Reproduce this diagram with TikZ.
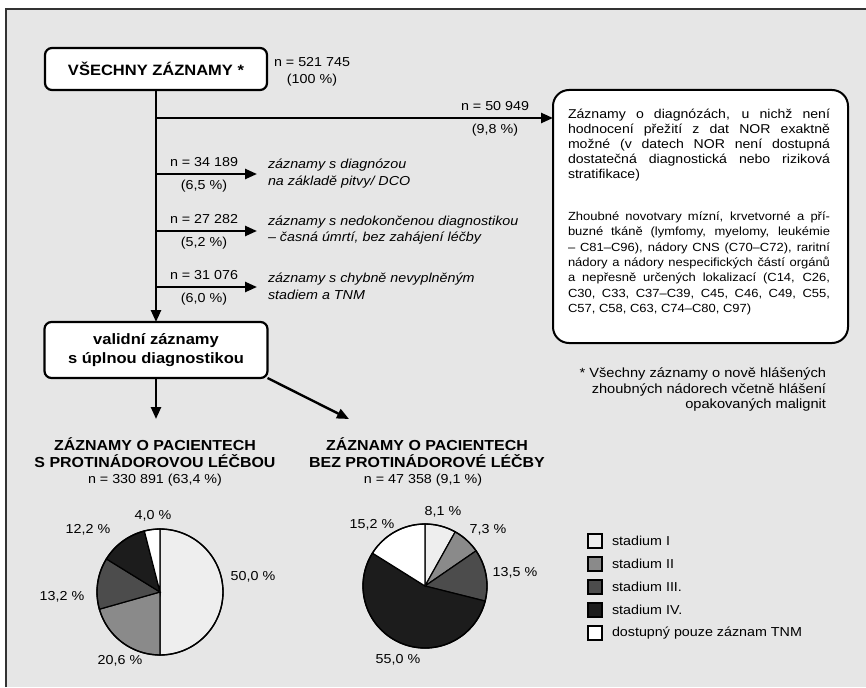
\documentclass[tikz,border=0pt]{standalone}
\usepackage{fontspec}
\setmainfont[FakeStretch=1.1]{Liberation Sans}
\usetikzlibrary{arrows.meta}
\definecolor{bg}{HTML}{E6E6E6}
\definecolor{stI}{HTML}{EEEEEE}
\definecolor{stII}{HTML}{8A8A8A}
\definecolor{stIII}{HTML}{4C4C4C}
\definecolor{stIV}{HTML}{1C1C1C}
\definecolor{stTNM}{HTML}{FFFFFF}
\begin{document}
\begin{tikzpicture}[x=1pt,y=-1pt,
  every node/.style={inner sep=0pt, outer sep=0pt},
  flowbox/.style={draw=black, line width=2.2pt, rounded corners=7pt, fill=white, align=center, font=\bfseries\fontsize{15}{19}\selectfont},
  conn/.style={line width=2.4pt, -{Triangle[length=12pt,width=10pt]}},
  lbl/.style={font=\fontsize{13}{17}\selectfont, align=center},
  pct/.style={font=\fontsize{13}{23}\selectfont, align=center},
  itl/.style={font=\itshape\fontsize{13}{16.5}\selectfont, align=left, anchor=west},
  head/.style={font=\bfseries\fontsize{14.5}{17}\selectfont, align=center},
  pieline/.style={draw=black, line width=1.2pt},
  legbox/.style={draw=black, line width=1.5pt, minimum width=14pt, minimum height=14pt},
  legtxt/.style={font=\fontsize{13}{15}\selectfont, anchor=west}
]
\useasboundingbox (0,0) rectangle (866,687);
\fill[white] (0,0) rectangle (866,687);
\fill[bg] (6,9) rectangle (866,687);
\draw[line width=1.8pt, black!80] (6,687) -- (6,9) -- (866,9);

% top box
\node[flowbox, minimum width=222pt, minimum height=42pt] (all) at (156,69) {VŠECHNY ZÁZNAMY *};
\node[lbl] (nall) at (312,71.5) {n = 521 745\\(100 \%)};

% right box
\node[draw=black, line width=2pt, rounded corners=16pt, fill=white, minimum width=295pt, minimum height=253pt] (rbox) at (700.5,216.5) {};
\node[anchor=north west, text width=262pt, align=justify, font=\fontsize{12.8}{15}\selectfont] (rt1) at (568,109)
 {Záznamy o diagnózách, u nichž není\linebreak
  hodnocení přežití z dat NOR exaktně\linebreak
  možné (v datech NOR není dostupná\linebreak
  dostatečná diagnostická nebo riziková\linebreak
  stratifikace)};
\node[anchor=north west, text width=262pt, align=justify, font=\fontsize{11.8}{15.3}\selectfont] (rt2) at (568,212)
 {Zhoubné novotvary mízní, krvetvorné a pří-\linebreak
  buzné tkáně (lymfomy, myelomy, leukémie\linebreak
  – C81–C96), nádory CNS (C70–C72), raritní\linebreak
  nádory a nádory nespecifických částí orgánů\linebreak
  a nepřesně určených lokalizací (C14, C26,\linebreak
  C30, C33, C37–C39, C45, C46, C49, C55,\linebreak
  C57, C58, C63, C74–C80, C97)};

% valid box
\node[flowbox, minimum width=223pt, minimum height=56pt] (valid) at (156,350) {validní záznamy\\s úplnou diagnostikou};

% trunk and branches
\draw[conn] (all.south) -- (valid.north);
\coordinate (j0) at (156,118);
\draw[conn] (j0) -- (j0 -| rbox.west);
\node[pct] (n0) at (495,118.5) {n = 50 949\\(9,8 \%)};

\coordinate (j1) at (156,174);
\coordinate (e1) at (257,174);
\draw[conn] (j1) -- (e1);
\node[pct] (n1) at (204,174.5) {n = 34 189\\(6,5 \%)};
\node[itl] (t1) at (268,173.5) {záznamy s diagnózou\\na základě pitvy/ DCO};

\coordinate (j2) at (156,231);
\coordinate (e2) at (257,231);
\draw[conn] (j2) -- (e2);
\node[pct] (n2) at (204,231.5) {n = 27 282\\(5,2 \%)};
\node[itl] (t2) at (268,230) {záznamy s nedokončenou diagnostikou\\– časná úmrtí, bez zahájení léčby};

\coordinate (j3) at (156,287);
\coordinate (e3) at (257,287);
\draw[conn] (j3) -- (e3);
\node[pct] (n3) at (204,287.5) {n = 31 076\\(6,0 \%)};
\node[itl] (t3) at (268,286.5) {záznamy s chybně nevyplněným\\stadiem a TNM};

% footnote
\node[align=right, anchor=north east, font=\fontsize{13.3}{15.5}\selectfont] (fn) at (826,368)
 {* Všechny záznamy o nově hlášených\\zhoubných nádorech včetně hlášení\\opakovaných malignit};

% lower arrows
\coordinate (a1) at (156,419);
\coordinate (a2) at (349,419);
\draw[conn] (valid.south) -- (a1);
\draw[conn] (valid.south east) -- (a2);

% headings
\node[head] (h1) at (155,453) {ZÁZNAMY O PACIENTECH\\S PROTINÁDOROVOU LÉČBOU};
\node[lbl] (c1) at (155,480) {n = 330 891 (63,4 \%)};
\node[head] (h2) at (427,453) {ZÁZNAMY O PACIENTECH\\BEZ PROTINÁDOROVÉ LÉČBY};
\node[lbl] (c2) at (423,480) {n = 47 358 (9,1 \%)};

% pie 1
\begin{scope}[shift={(160,592)}, yscale=-1]
 \filldraw[pieline, fill=stI] (0,0) -- (90:63) arc[start angle=90, end angle=-90, radius=63] -- cycle;
 \filldraw[pieline, fill=stII] (0,0) -- (-90:63) arc[start angle=-90, end angle=-164.16, radius=63] -- cycle;
 \filldraw[pieline, fill=stIII] (0,0) -- (-164.16:63) arc[start angle=-164.16, end angle=-211.68, radius=63] -- cycle;
 \filldraw[pieline, fill=stIV] (0,0) -- (-211.68:63) arc[start angle=-211.68, end angle=-255.6, radius=63] -- cycle;
 \filldraw[pieline, fill=stTNM] (0,0) -- (-255.6:63) arc[start angle=-255.6, end angle=-270, radius=63] -- cycle;
 \draw[line width=1.4pt] (0,0) circle[radius=63];
\end{scope}
\node[lbl] (p1a) at (253,577) {50,0 \%};
\node[lbl] (p1b) at (120,661) {20,6 \%};
\node[lbl] (p1c) at (62,597) {13,2 \%};
\node[lbl] (p1d) at (88,530) {12,2 \%};
\node[lbl] (p1e) at (153,516) {4,0 \%};

% pie 2
\begin{scope}[shift={(425,586)}, yscale=-1]
 \filldraw[pieline, fill=stI] (0,0) -- (90:62) arc[start angle=90, end angle=60.84, radius=62] -- cycle;
 \filldraw[pieline, fill=stII] (0,0) -- (60.84:62) arc[start angle=60.84, end angle=34.56, radius=62] -- cycle;
 \filldraw[pieline, fill=stIII] (0,0) -- (34.56:62) arc[start angle=34.56, end angle=-14.04, radius=62] -- cycle;
 \filldraw[pieline, fill=stIV] (0,0) -- (-14.04:62) arc[start angle=-14.04, end angle=-212.04, radius=62] -- cycle;
 \filldraw[pieline, fill=stTNM] (0,0) -- (-212.04:62) arc[start angle=-212.04, end angle=-270, radius=62] -- cycle;
 \draw[line width=1.4pt] (0,0) circle[radius=62];
\end{scope}
\node[lbl] (p2a) at (443,512) {8,1 \%};
\node[lbl] (p2b) at (488,530) {7,3 \%};
\node[lbl] (p2c) at (515,573) {13,5 \%};
\node[lbl] (p2d) at (398,660) {55,0 \%};
\node[lbl] (p2e) at (372,525) {15,2 \%};

% legend
\node[legbox, fill=stI] (lb1) at (595,541) {};
\node[legtxt] (lt1) at (612,541) {stadium I};
\node[legbox, fill=stII] (lb2) at (595,564) {};
\node[legtxt] (lt2) at (612,564) {stadium II};
\node[legbox, fill=stIII] (lb3) at (595,587) {};
\node[legtxt] (lt3) at (612,587) {stadium III.};
\node[legbox, fill=stIV] (lb4) at (595,610) {};
\node[legtxt] (lt4) at (612,610) {stadium IV.};
\node[legbox, fill=stTNM] (lb5) at (595,633) {};
\node[legtxt] (lt5) at (612,633) {dostupný pouze záznam TNM};
\end{tikzpicture}
\end{document}
